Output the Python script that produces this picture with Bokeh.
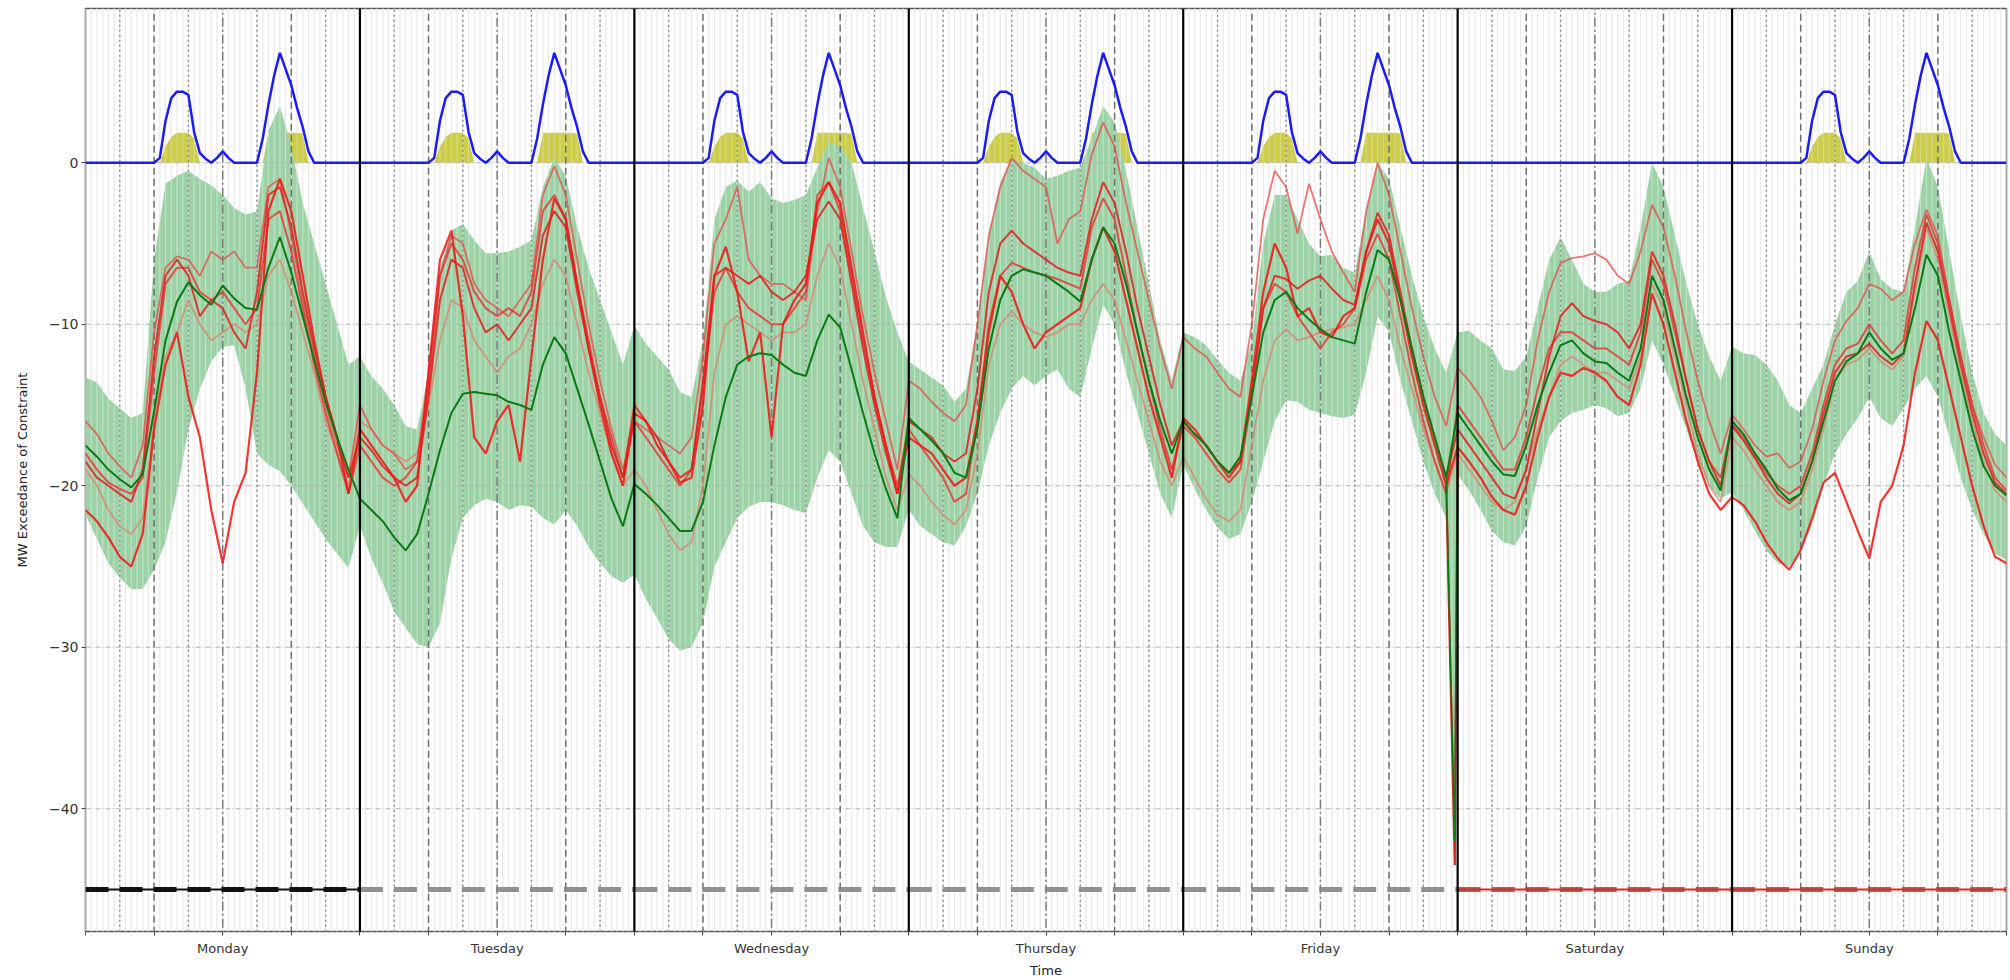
import numpy as np
from bokeh.plotting import figure
from bokeh.models import FixedTicker, Range1d
from bokeh.embed import file_html
from bokeh.resources import INLINE

# ---------------------------------------------------------------- data
days = ["Monday", "Tuesday", "Wednesday", "Thursday", "Friday", "Saturday", "Sunday"]
y_ticks = [-40, -30, -20, -10, 0]
y_tick_labels = ["\u221240", "\u221230", "\u221220", "\u221210", "0"]

# daily flexibility profile (half-hourly, 00:00 .. 23:30), blue line
blue_profile = [0, 0, 0, 0, 0, 0, 0, 0, 0, 0, 0, 0, 0,
                0.3, 2.6, 4.0, 4.4, 4.4, 4.2, 1.9, 0.6, 0.25, 0.0, 0.3, 0.7, 0.3,
                0, 0, 0, 0, 0, 1.5, 3.6, 5.4, 6.8, 5.8, 4.8, 3.4, 2.2, 0.7, 0,
                0, 0, 0, 0, 0, 0, 0]
# daily window profile (half-hourly), olive blocks
window_profile = [0, 0, 0, 0, 0, 0, 0, 0, 0, 0, 0, 0, 0,
                  0, 1.0, 1.6, 1.85, 1.85, 1.85, 1.5, 0, 0, 0, 0, 0, 0,
                  0, 0, 0, 0, 0, 0, 1.85, 1.85, 1.85, 1.85, 1.85, 1.85, 1.8, 0, 0,
                  0, 0, 0, 0, 0, 0, 0]
profile_active = [1, 1, 1, 1, 1, 0, 1]

# hourly series, Monday 00:00 .. Sunday 23:00 plus Sunday 24:00
mean_exceed = [
    -17.5, -18.2, -19.0, -19.6, -20.1, -19.3, -15.4, -11.0, -8.6, -7.4, -8.2, -8.8, -7.6, -8.4, -9.0, -9.1, -6.5, -4.6, -6.8, -9.5, -12.2, -14.8, -17.0, -19.0,
    -20.8, -21.5, -22.2, -23.2, -24.0, -23.0, -20.5, -17.8, -15.5, -14.3, -14.2, -14.3, -14.4, -14.8, -15.0, -15.3, -12.5, -10.8, -11.8, -14.0, -16.2, -18.5, -20.8, -22.5,
    -19.9, -20.5, -21.2, -22.0, -22.8, -22.8, -21.0, -17.5, -14.5, -12.5, -12.0, -11.8, -11.9, -12.5, -13.0, -13.2, -11.0, -9.4, -10.2, -12.8, -15.5, -18.0, -20.2, -22.0,
    -15.8, -16.5, -17.2, -18.0, -19.2, -19.5, -16.5, -11.5, -8.5, -7.0, -6.6, -6.8, -7.0, -7.5, -8.0, -8.6, -6.0, -4.0, -5.0, -7.5, -10.5, -13.5, -16.0, -18.0,
    -16.0, -16.8, -17.5, -18.5, -19.2, -18.2, -14.5, -10.5, -8.5, -8.0, -9.0, -9.7, -10.3, -10.8, -11.0, -11.2, -8.0, -5.4, -6.0, -8.5, -11.5, -14.5, -17.0, -19.5,
    -15.5, -16.5, -17.5, -18.5, -19.3, -19.4, -17.5, -15.0, -13.0, -11.3, -11.0, -11.8, -12.3, -12.4, -13.0, -13.5, -11.5, -7.0, -8.5, -11.5, -14.5, -17.0, -19.0, -20.3,
    -16.0, -16.8, -18.0, -19.0, -20.2, -20.9, -20.5, -18.5, -16.0, -13.5, -12.3, -11.8, -10.5, -11.5, -12.2, -11.8, -9.0, -5.7, -7.0, -10.5, -13.5, -16.5, -18.8, -20.0,
    -20.6]
band_upper = [
    -13.3, -13.6, -14.6, -15.2, -15.8, -15.5, -6.0, -1.3, -0.8, -0.5, -1.0, -1.4, -2.0, -2.8, -3.2, -3.0, 2.0, 3.5, 1.0, -2.5, -5.0, -7.5, -10.0, -12.5,
    -12.0, -13.2, -14.0, -15.0, -16.3, -16.5, -13.0, -6.5, -4.2, -3.8, -4.8, -5.6, -5.6, -5.5, -5.2, -4.8, -1.5, 0.3, -0.8, -4.0, -6.5, -8.5, -10.5, -12.5,
    -10.1, -11.2, -12.0, -12.8, -14.2, -14.5, -11.0, -3.5, -1.5, -1.1, -1.8, -1.2, -2.2, -2.5, -2.3, -2.0, -0.3, 1.3, 1.0, 0.0, -2.8, -5.5, -8.3, -10.5,
    -12.3, -12.8, -13.3, -13.8, -14.8, -14.0, -10.0, -4.5, -1.2, 0.2, 0.0, -0.3, -1.0, -0.8, -0.5, -0.3, 1.5, 3.5, 2.5, -0.5, -4.0, -7.5, -11.0, -13.5,
    -10.5, -10.8, -11.3, -12.2, -13.0, -13.5, -11.0, -5.0, -2.0, -2.0, -3.5, -5.0, -5.8, -5.7, -6.5, -6.8, -3.0, 0.0, -1.0, -4.0, -7.0, -9.5, -11.5, -13.0,
    -10.5, -10.4, -11.0, -11.5, -12.8, -12.9, -12.0, -9.0, -6.0, -4.6, -6.0, -7.5, -8.0, -8.0, -7.5, -7.3, -4.0, 0.0, -1.5, -4.5, -7.5, -10.0, -12.0, -13.5,
    -11.4, -11.8, -11.9, -12.5, -13.5, -15.0, -15.5, -14.0, -12.5, -10.0, -8.0, -7.3, -5.5, -7.2, -7.8, -8.0, -4.0, 0.3, -1.5, -5.5, -9.5, -13.0, -15.5, -16.8,
    -17.5]
band_lower = [
    -21.8, -23.3, -24.8, -25.7, -26.4, -26.4, -25.2, -23.5, -20.4, -16.5, -14.0, -12.3, -11.4, -11.3, -14.0, -18.0, -18.7, -19.1, -20.0, -21.1, -22.2, -23.3, -24.2, -25.1,
    -22.5, -24.5, -26.0, -27.8, -28.8, -29.8, -30.0, -28.5, -24.5, -22.0, -21.2, -20.8, -21.0, -21.5, -21.2, -21.3, -22.0, -22.4, -21.5, -22.5, -23.8, -24.8, -25.6, -26.0,
    -25.5, -27.0, -28.2, -29.5, -30.2, -30.0, -28.5, -25.0, -23.5, -22.0, -21.3, -21.0, -21.0, -21.2, -21.5, -21.7, -19.5, -17.8, -18.5, -20.5, -22.5, -23.5, -23.8, -23.8,
    -21.5, -22.5, -23.0, -23.5, -23.7, -22.5, -20.5, -17.5, -15.5, -14.0, -13.2, -13.8, -13.2, -12.8, -14.0, -14.5, -11.5, -8.8, -10.0, -13.0, -15.5, -18.0, -20.5, -22.0,
    -18.7, -20.2, -21.5, -22.6, -23.3, -23.0, -21.0, -18.5, -16.0, -14.7, -14.8, -15.3, -15.5, -15.7, -15.8, -15.6, -13.0, -9.5, -10.5, -13.5, -16.0, -18.5, -20.5, -22.0,
    -19.3, -20.3, -21.5, -22.8, -23.5, -23.7, -22.5, -19.5, -17.0, -16.0, -15.5, -15.3, -15.0, -15.2, -15.7, -15.5, -14.0, -11.0, -12.5, -14.5, -16.5, -18.5, -20.0, -20.8,
    -20.4, -21.5, -22.8, -24.0, -24.8, -25.0, -24.0, -22.5, -20.0, -18.0, -16.8, -15.8, -14.5, -15.8, -16.3, -15.2, -14.0, -13.2, -14.5, -17.0, -19.5, -21.5, -23.0, -24.2,
    -24.6]
week_a = [
    -21.5, -22.2, -23.2, -24.4, -25.0, -23.0, -16.5, -12.5, -10.5, -14.5, -17.0, -21.5, -24.8, -21.0, -19.2, -13.0, -3.0, -1.0, -3.0, -7.0, -11.0, -14.5, -17.0, -20.5,
    -16.5, -17.5, -18.5, -19.5, -21.0, -20.0, -13.0, -6.0, -4.2, -9.5, -17.0, -18.0, -16.0, -15.0, -18.5, -12.0, -6.0, -2.2, -3.5, -7.5, -11.5, -15.0, -18.0, -20.0,
    -15.5, -16.0, -17.5, -18.5, -19.8, -19.5, -15.0, -7.0, -5.2, -8.0, -12.3, -10.5, -17.0, -10.0, -8.5, -7.5, -2.5, -1.2, -2.5, -6.5, -10.5, -14.5, -17.5, -20.5,
    -17.0, -17.5, -18.0, -19.0, -20.0, -19.5, -16.0, -10.5, -7.0, -8.0, -10.0, -11.5, -10.5, -10.0, -9.5, -9.0, -6.0, -4.0, -5.5, -8.5, -11.5, -14.5, -17.0, -19.5,
    -15.8, -16.5, -17.5, -18.5, -19.5, -18.5, -13.5, -8.0, -5.0, -6.5, -9.5, -9.0, -10.5, -10.8, -9.5, -9.0, -5.5, -3.5, -5.0, -8.5, -12.0, -15.0, -17.5, -20.0,
    -17.6, -18.5, -19.5, -20.7, -21.5, -21.8, -20.0, -17.0, -14.5, -13.0, -13.2, -12.7, -13.0, -13.5, -14.5, -15.0, -12.5, -8.1, -10.0, -13.0, -16.0, -18.5, -20.5, -21.5,
    -20.7, -21.2, -22.2, -23.5, -24.5, -25.2, -24.0, -22.0, -19.8, -19.2, -21.0, -22.8, -24.5, -21.0, -20.0, -17.5, -13.0, -9.8, -11.0, -14.0, -17.0, -20.0, -22.5, -24.4,
    -24.8]
week_b = [
    -16.0, -16.8, -18.0, -18.8, -19.5, -17.5, -10.5, -6.5, -5.8, -6.0, -7.0, -5.5, -6.0, -5.5, -6.5, -6.5, -1.5, -1.0, -4.5, -8.5, -12.0, -15.0, -17.5, -19.5,
    -15.0, -16.5, -17.5, -18.0, -19.0, -18.5, -13.0, -7.0, -4.5, -5.0, -7.5, -8.5, -9.0, -9.5, -8.5, -7.5, -2.0, -0.2, -2.0, -6.0, -10.0, -13.5, -16.5, -19.0,
    -16.0, -16.5, -17.0, -17.5, -18.0, -17.0, -12.0, -5.0, -3.5, -1.5, -6.0, -7.0, -7.5, -7.5, -8.0, -8.5, -3.0, 0.3, -1.5, -5.5, -9.5, -13.0, -16.0, -19.0,
    -13.5, -14.0, -14.8, -15.5, -16.0, -15.0, -10.0, -4.5, -1.5, 0.3, -0.5, -1.0, -1.5, -5.0, -3.5, -3.0, 0.5, 2.5, 1.0, -2.5, -5.5, -8.5, -11.5, -14.0,
    -10.8, -11.5, -12.0, -13.0, -14.0, -14.5, -10.0, -3.5, -0.5, -1.5, -4.4, -1.3, -3.5, -5.5, -6.8, -8.0, -3.0, 0.0, -2.0, -5.5, -9.0, -12.0, -14.5, -16.3,
    -12.7, -13.5, -14.5, -16.0, -17.8, -17.0, -15.0, -11.0, -8.0, -6.2, -5.9, -5.8, -5.6, -6.0, -7.0, -7.5, -5.5, -2.6, -4.0, -7.0, -10.5, -13.5, -16.0, -18.0,
    -15.6, -16.5, -17.5, -18.2, -18.0, -18.9, -18.5, -16.5, -13.5, -11.0, -9.8, -9.0, -7.5, -7.8, -8.5, -8.0, -5.0, -2.9, -4.5, -8.5, -12.0, -15.0, -17.0, -18.7,
    -19.5]
week_c = [
    -18.5, -19.5, -20.0, -20.5, -21.0, -19.0, -12.0, -7.0, -6.0, -7.0, -9.5, -8.5, -9.0, -10.5, -11.5, -8.0, -2.0, -1.5, -4.0, -8.0, -11.5, -14.5, -17.0, -19.5,
    -17.0, -17.8, -18.8, -19.5, -20.0, -19.5, -14.5, -8.5, -6.0, -6.5, -9.0, -10.5, -10.0, -11.0, -10.0, -9.0, -4.5, -3.0, -4.0, -8.0, -11.5, -14.5, -17.5, -19.5,
    -15.0, -16.0, -17.0, -18.5, -19.5, -19.0, -13.5, -7.0, -6.5, -7.0, -7.5, -7.0, -8.0, -8.5, -8.0, -7.0, -3.5, -2.4, -3.5, -7.5, -11.5, -15.0, -18.0, -20.5,
    -16.0, -16.5, -17.0, -18.0, -18.5, -18.0, -14.0, -8.0, -5.0, -4.2, -5.0, -5.5, -6.0, -6.5, -6.8, -7.0, -3.5, -1.2, -2.5, -5.5, -9.0, -12.0, -15.0, -17.5,
    -16.0, -16.8, -17.5, -18.5, -19.2, -18.5, -14.0, -9.0, -7.0, -7.2, -7.8, -7.3, -7.0, -7.8, -8.5, -8.8, -5.5, -3.1, -4.5, -8.0, -11.5, -14.5, -17.0, -19.5,
    -16.5, -17.5, -18.5, -19.5, -20.5, -20.8, -19.0, -15.5, -12.0, -9.5, -8.7, -9.5, -9.8, -10.0, -10.5, -11.5, -10.0, -5.5, -7.0, -10.0, -13.5, -16.5, -18.5, -20.0,
    -16.3, -17.2, -18.3, -19.5, -20.5, -21.1, -20.5, -18.5, -15.5, -13.0, -12.0, -11.8, -11.2, -12.0, -12.5, -11.8, -7.5, -3.7, -5.5, -9.0, -12.5, -15.5, -18.0, -19.8,
    -20.5]
week_d = [
    -19.0, -20.0, -21.5, -22.5, -23.0, -22.0, -16.0, -12.0, -10.5, -8.5, -10.0, -11.0, -10.5, -10.0, -10.5, -10.0, -7.0, -6.0, -8.0, -10.5, -13.0, -16.0, -18.0, -20.0,
    -16.0, -16.5, -17.5, -18.0, -18.5, -18.0, -15.0, -11.0, -8.5, -9.0, -11.0, -12.0, -13.0, -12.0, -11.5, -10.0, -7.5, -6.0, -7.0, -10.0, -13.0, -15.5, -18.0, -20.0,
    -19.0, -20.0, -21.5, -23.0, -24.0, -23.5, -20.0, -13.0, -10.0, -9.5, -10.0, -10.5, -11.0, -10.5, -10.5, -10.0, -7.0, -5.0, -6.5, -10.0, -13.5, -16.5, -19.5, -21.5,
    -19.3, -20.0, -21.0, -21.8, -22.4, -21.5, -18.0, -12.5, -10.0, -9.2, -10.0, -10.5, -10.8, -10.5, -10.0, -10.0, -8.5, -7.5, -8.5, -11.0, -13.5, -16.0, -18.5, -20.0,
    -18.2, -19.5, -20.8, -21.8, -22.2, -21.5, -17.5, -13.5, -11.0, -10.3, -11.0, -10.8, -10.5, -10.3, -10.2, -10.0, -8.5, -7.0, -8.5, -11.5, -14.0, -16.5, -18.5, -20.5,
    -18.0, -19.0, -20.0, -21.0, -21.5, -21.0, -19.0, -16.5, -14.5, -12.5, -12.0, -12.5, -13.0, -13.0, -13.5, -14.0, -12.0, -7.5, -9.0, -12.0, -15.0, -18.0, -20.0, -21.0,
    -17.0, -17.8, -19.0, -20.0, -21.0, -21.5, -21.0, -19.0, -16.5, -13.5, -12.5, -12.2, -11.5, -12.3, -12.8, -12.0, -8.0, -4.0, -6.0, -9.5, -13.0, -16.0, -18.5, -20.3,
    -21.0]
week_e = [
    -18.0, -19.0, -19.8, -20.2, -20.5, -19.5, -13.0, -7.5, -6.5, -6.5, -8.0, -8.5, -8.0, -9.0, -10.0, -9.0, -3.5, -3.0, -5.5, -9.0, -12.5, -15.5, -18.0, -20.5,
    -17.5, -18.5, -19.5, -20.0, -19.5, -18.5, -14.0, -7.0, -5.0, -6.0, -8.0, -9.0, -9.5, -9.0, -9.5, -8.0, -3.0, -2.0, -3.5, -7.5, -11.0, -14.5, -17.0, -19.5,
    -16.0, -17.0, -18.0, -19.0, -20.0, -19.0, -14.0, -8.0, -6.5, -8.0, -9.0, -9.5, -10.0, -10.0, -9.0, -8.0, -2.0, -1.2, -3.0, -7.0, -11.0, -14.5, -17.5, -20.0,
    -16.5, -17.5, -18.5, -19.5, -21.0, -20.5, -16.0, -10.0, -7.0, -6.2, -6.5, -6.8, -7.0, -7.2, -7.5, -7.8, -4.0, -2.2, -3.5, -7.0, -10.5, -13.5, -16.5, -19.0,
    -16.3, -17.0, -18.0, -19.0, -19.8, -19.0, -14.5, -9.0, -7.5, -8.0, -9.5, -10.5, -11.5, -10.5, -10.0, -9.0, -6.0, -4.4, -6.0, -9.5, -13.0, -16.0, -18.5, -20.5,
    -15.0, -16.0, -17.0, -18.0, -19.0, -19.0, -17.0, -14.0, -11.5, -10.5, -10.5, -11.0, -11.5, -11.5, -12.0, -12.5, -10.5, -6.0, -7.5, -10.5, -13.5, -16.5, -18.5, -19.5,
    -16.2, -17.0, -18.2, -19.2, -20.0, -20.5, -20.0, -18.0, -15.0, -12.5, -11.5, -11.2, -10.0, -11.0, -11.8, -11.0, -6.5, -3.2, -5.0, -8.5, -12.0, -15.0, -17.5, -19.5,
    -20.3]

# last half hour of Friday: a single very low reading
spike_hours = [119.0, 119.75, 120.0]
spike_week_a = [-20.0, -43.5, -17.6]
spike_mean = [-19.5, -42.0, -15.5]
spike_lower = [-22.0, -43.5, -19.3]
spike_upper = [-13.0, -13.3, -10.5]

# day-type marker line
marker_level = -45
marker_kind = ["black", "grey", "grey", "grey", "grey", "red", "red"]

# ---------------------------------------------------------------- figure
FONT = "DejaVu Sans"
p = figure(width=2010, height=980, x_range=Range1d(0, 168), y_range=Range1d(-47.6, 9.55),
           output_backend="svg", toolbar_location=None,
           min_border_left=85, min_border_right=4, min_border_top=8, min_border_bottom=45)
p.background_fill_color = "white"
p.border_fill_color = "white"
p.outline_line_color = "#555555"
p.outline_line_width = 1.5
p.xgrid.grid_line_color = None
p.ygrid.grid_line_color = None

hours = np.arange(169)
half_steps = np.arange(0, 168.01, 0.5)

# faint half-hour lines (under everything)
p.segment(x0=half_steps, y0=-60, x1=half_steps, y1=20, line_color="#dcdcdc", line_width=1)

# weekly blue / olive curves from the daily profiles
bt, bv, wv = [], [], []
for d in range(7):
    for k in range(48):
        bt.append(d * 24 + k * 0.5)
        bv.append(blue_profile[k] * profile_active[d])
        wv.append(window_profile[k] * profile_active[d])
bt.append(168.0); bv.append(0.0); wv.append(0.0)

p.varea(x=bt, y1=0, y2=wv, fill_color="#b8b800", fill_alpha=0.7)

# green band
BAND = "#9dd2a7"
p.varea(x=hours, y1=band_lower, y2=band_upper, fill_color=BAND, fill_alpha=1.0)
p.varea(x=spike_hours, y1=spike_lower, y2=spike_upper, fill_color=BAND, fill_alpha=1.0)

# light seams over the band
p.segment(x0=half_steps, y0=-60, x1=half_steps, y1=20, line_color="white", line_alpha=0.35, line_width=1.2)

# horizontal grid
p.segment(x0=0, y0=y_ticks, x1=168, y1=y_ticks, line_color="#b4b4b4", line_width=1, line_dash="5 2 1 2")

# styled vertical guides
dotted_x = [d * 24 + h for d in range(7) for h in (3, 9, 15, 21)]
dashed_x = [d * 24 + h for d in range(7) for h in (6, 18)]
dashdot_x = [d * 24 + 12 for d in range(7)]
p.segment(x0=dotted_x, y0=-60, x1=dotted_x, y1=20, line_color="#8a8a8a", line_width=1.4, line_dash="2 3")
p.segment(x0=dashed_x, y0=-60, x1=dashed_x, y1=20, line_color="#6e6e6e", line_width=1.5, line_dash="7 4")
p.segment(x0=dashdot_x, y0=-60, x1=dashdot_x, y1=20, line_color="#7a7a7a", line_width=1.5, line_dash="9 3 2 3")

# individual weeks (red) and mean (green)
p.line(hours, week_d, line_color="#d9826f", line_alpha=0.75, line_width=1.8)
p.line(hours, week_b, line_color="#e54a4a", line_alpha=0.75, line_width=1.8)
p.line(hours, week_e, line_color="#e63232", line_alpha=0.8, line_width=2.0)
p.line(hours, week_c, line_color="#e01e1e", line_alpha=0.85, line_width=2.0)
p.line(hours, week_a, line_color="#f01414", line_alpha=0.85, line_width=2.2)
p.line(spike_hours, spike_week_a, line_color="#d01010", line_alpha=0.9, line_width=2.2)
p.line(hours, mean_exceed, line_color="#0a7a14", line_width=2.0)
p.line(spike_hours, spike_mean, line_color="#0a7a14", line_width=1.5)

# blue profile
p.line(bt, bv, line_color="#1c1cf0", line_width=2.5)

# day-type marker at -45
for d in range(7):
    xs = [d * 24, d * 24 + 24]
    ys = [marker_level, marker_level]
    if marker_kind[d] == "black":
        p.line(xs, ys, line_color="#111111", line_width=2.2)
        p.line(xs, ys, line_color="#111111", line_width=5, line_dash="23 11")
    elif marker_kind[d] == "red":
        p.line(xs, ys, line_color="#e82020", line_width=2.2)
        p.line(xs, ys, line_color="#b83a3a", line_alpha=0.85, line_width=5, line_dash="23 11")
    else:
        p.line(xs, ys, line_color="#858585", line_alpha=0.9, line_width=5, line_dash="23 11")

# day boundaries
day_edges = [24 * d for d in range(1, 7)]
p.segment(x0=day_edges, y0=-60, x1=day_edges, y1=20, line_color="black", line_width=2.2)

# ---------------------------------------------------------------- axes
xt = list(range(0, 169, 6))
p.xaxis.ticker = FixedTicker(ticks=xt)
p.xaxis.major_label_overrides = {t: (days[t // 24] if t % 24 == 12 else "") for t in xt}
p.yaxis.ticker = FixedTicker(ticks=y_ticks)
p.yaxis.major_label_overrides = {t: l for t, l in zip(y_ticks, y_tick_labels)}
for ax in (p.xaxis[0], p.yaxis[0]):
    ax.axis_line_color = None
    ax.major_tick_in = 0
    ax.major_tick_out = 4
    ax.major_tick_line_color = "#444444"
    ax.minor_tick_line_color = None
    ax.major_label_text_font = FONT
    ax.major_label_text_color = "#333333"
    ax.axis_label_text_font = FONT
    ax.axis_label_text_font_style = "normal"
    ax.axis_label_text_color = "#222222"
p.xaxis.major_label_text_font_size = "13px"
p.yaxis.major_label_text_font_size = "14px"
p.xaxis.axis_label = "Time"
p.yaxis.axis_label = "MW Exceedance of Constraint"
p.xaxis.axis_label_text_font_size = "13px"
p.yaxis.axis_label_text_font_size = "13px"
p.xaxis.major_label_standoff = 5
p.xaxis.axis_label_standoff = 4
p.yaxis.major_label_standoff = 3
p.yaxis.axis_label_standoff = 16

open("out.html", "w").write(file_html(p, INLINE))
